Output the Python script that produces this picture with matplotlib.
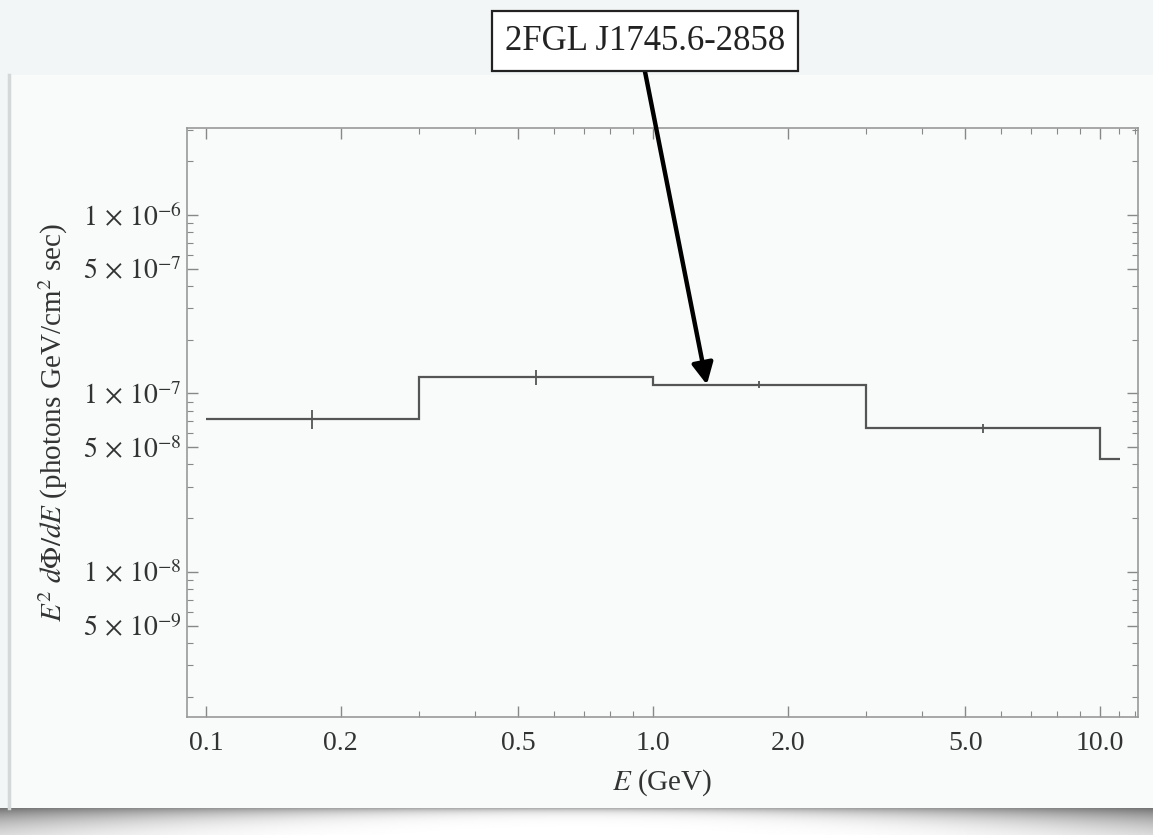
import numpy as np
import matplotlib
matplotlib.use("Agg")
import matplotlib.pyplot as plt
from matplotlib.ticker import FixedLocator, FixedFormatter, NullFormatter
from matplotlib.patches import Rectangle

plt.rcParams['font.family'] = ['Liberation Serif', 'DejaVu Serif']
plt.rcParams['mathtext.fontset'] = 'stix'

# spectrum of the source
bin_edges = [0.1, 0.3, 1.0, 3.0, 10.0, 11.1]
flux = [7.15e-8, 1.23e-7, 1.12e-7, 6.37e-8, 4.27e-8]

bin_centers = [0.173, 0.548, 1.73, 5.48]
flux_lo = [6.3e-8, 1.12e-7, 1.07e-7, 6.0e-8]
flux_hi = [8.1e-8, 1.35e-7, 1.17e-7, 6.75e-8]

x_major = [0.1, 0.2, 0.5, 1.0, 2.0, 5.0, 10.0]
x_labels = ["0.1", "0.2", "0.5", "1.0", "2.0", "5.0", "10.0"]
x_minor = [0.3, 0.4, 0.6, 0.7, 0.8, 0.9, 3, 4, 6, 7, 8, 9, 11, 12]

y_major = [1e-6, 5e-7, 1e-7, 5e-8, 1e-8, 5e-9]
y_labels = [r"$1\,\times\,10^{-6}$", r"$5\,\times\,10^{-7}$", r"$1\,\times\,10^{-7}$",
            r"$5\,\times\,10^{-8}$", r"$1\,\times\,10^{-8}$", r"$5\,\times\,10^{-9}$"]
y_minor = [m * 10.0**e for e in range(-9, -5) for m in (2, 3, 4, 6, 7, 8, 9)]

source_name = "2FGL J1745.6-2858"

W, H = 1153, 835
fig = plt.figure(figsize=(W / 100, H / 100), dpi=100)
fig.patch.set_facecolor('#f3f6f6')

# slide panel (behind the axes)
fig.patches.append(Rectangle((10 / W, 27 / H), 1 - 10 / W, 733 / H, transform=fig.transFigure,
                             fc='#f9fbfb', ec='none', zorder=-2))
fig.lines.append(plt.Line2D([9 / W, 9 / W], [27 / H, 760 / H], transform=fig.transFigure,
                            color='#d5d8d8', lw=2.5, zorder=-1))

# shadow under the panel
sh = fig.add_axes([0, 0, 1, 27 / H], zorder=-1)
xx = np.linspace(-1, 1, 600)
yy = np.linspace(0, 27, 60)
X, Y = np.meshgrid(xx, yy)
depth = 4 + 16 * X**2
img = 1 - 0.55 * np.exp(-Y / depth) * (0.6 + 0.4 * X**2)
sh.imshow(img, cmap='gray', vmin=0, vmax=1, aspect='auto', extent=[0, 1, 0, 1])
sh.set_axis_off()

ax = fig.add_axes([187 / W, 1 - 717 / H, (1138 - 187) / W, (717 - 128) / H], zorder=2)
ax.set_facecolor('#f9fbfb')
ax.set_xscale('log')
ax.set_yscale('log')
ax.set_xlim(0.0907, 12.16)
ax.set_ylim(1.54e-9, 3.07e-6)

ax.stairs(flux, bin_edges, baseline=None, color='#555555', lw=1.6)
ax.vlines(bin_centers, flux_lo, flux_hi, color='#555555', lw=1.3)

ax.xaxis.set_major_locator(FixedLocator(x_major))
ax.xaxis.set_major_formatter(FixedFormatter(x_labels))
ax.xaxis.set_minor_locator(FixedLocator(x_minor))
ax.xaxis.set_minor_formatter(NullFormatter())
ax.yaxis.set_major_locator(FixedLocator(y_major))
ax.yaxis.set_major_formatter(FixedFormatter(y_labels))
ax.yaxis.set_minor_locator(FixedLocator(y_minor))
ax.yaxis.set_minor_formatter(NullFormatter())

ax.tick_params(which='both', direction='in', top=True, right=True, color='#888888',
               labelcolor='#333333')
ax.tick_params(which='major', length=8, width=1, labelsize=20)
ax.tick_params(which='minor', length=4, width=0.8)
ax.tick_params(axis='x', which='major', pad=10)
ax.tick_params(axis='y', which='major', pad=4)
for s in ax.spines.values():
    s.set_color('#999999')
    s.set_linewidth(1.2)

ax.set_xlabel(r"$E$ (GeV)", fontsize=21, color='#333333', labelpad=8)
ax.set_ylabel(r"$E^2\ d\Phi/dE$ (photons GeV/cm$^2$ sec)", fontsize=21, color='#333333',
              labelpad=9)

ax.annotate(source_name, xy=(1.32, 1.12e-7), xytext=(645, H - 41), textcoords='figure pixels',
            ha='center', va='center', fontsize=25, color='#222222',
            bbox=dict(boxstyle='square,pad=0.38', fc='white', ec='#222222', lw=1.6),
            arrowprops=dict(arrowstyle='-|>', color='black', lw=3.2, mutation_scale=32,
                            relpos=(0.49, 0.0), shrinkA=0, shrinkB=0),
            annotation_clip=False)

fig.savefig("out.png", dpi=100, facecolor=fig.get_facecolor())
